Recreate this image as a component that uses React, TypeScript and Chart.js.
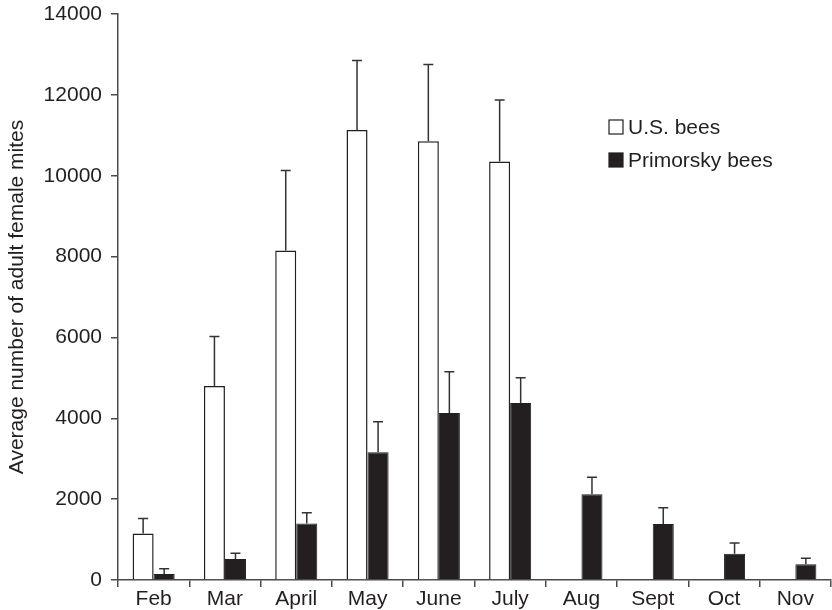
import React, { useEffect, useRef } from "react";
import { Chart, registerables } from "chart.js";

Chart.register(...registerables);

const categories = ["Feb", "Mar", "April", "May", "June", "July", "Aug", "Sept", "Oct", "Nov"];
const usBees = [1150, 4800, 8150, 11130, 10850, 10350, null, null, null, null];
const usErrTop = [1520, 6020, 10130, 12850, 12750, 11870, null, null, null, null];
const primorskyBees = [150, 520, 1400, 3160, 4130, 4380, 2120, 1385, 650, 390];
const primorskyErrTop = [280, 660, 1665, 3915, 5150, 5000, 2540, 1790, 915, 537];
const yTicks = [0, 2000, 4000, 6000, 8000, 10000, 12000, 14000];
const seriesNames = ["U.S. bees", "Primorsky bees"];

const FONT = "'Liberation Sans', Arial, Helvetica, sans-serif";
const TEXT = "#231f20";
const AXIS = "#4a4a4a";

const errorBarPlugin = {
  id: "errorBars",
  afterDatasetsDraw(chart: any) {
    const ctx = chart.ctx;
    const yScale = chart.scales.y;
    const errs = [usErrTop, primorskyErrTop];
    ctx.save();
    ctx.strokeStyle = "#333333";
    ctx.lineWidth = 1.5;
    chart.data.datasets.forEach((ds: any, i: number) => {
      const meta = chart.getDatasetMeta(i);
      meta.data.forEach((el: any, j: number) => {
        const v = ds.data[j];
        const e = errs[i][j];
        if (v == null || e == null) return;
        const x = el.x;
        const y0 = el.y;
        const y1 = yScale.getPixelForValue(e);
        ctx.beginPath();
        ctx.moveTo(x, y0);
        ctx.lineTo(x, y1);
        ctx.moveTo(x - 5, y1);
        ctx.lineTo(x + 5, y1);
        ctx.stroke();
      });
    });
    ctx.restore();
  },
};

const legendPlugin = {
  id: "insideLegend",
  afterDraw(chart: any) {
    const ctx = chart.ctx;
    const area = chart.chartArea;
    const bx = area.left + 491;
    const rows = [area.top + 113, area.top + 146];
    ctx.save();
    ctx.font = `21px ${FONT}`;
    ctx.textBaseline = "middle";
    ctx.textAlign = "left";
    rows.forEach((cy, i) => {
      const ds = chart.data.datasets[i];
      ctx.fillStyle = ds.backgroundColor;
      ctx.fillRect(bx, cy - 7, 14, 14);
      ctx.strokeStyle = "#231f20";
      ctx.lineWidth = 1.2;
      ctx.strokeRect(bx, cy - 7, 14, 14);
      ctx.fillStyle = TEXT;
      ctx.fillText(seriesNames[i], bx + 19, cy + 1);
    });
    ctx.restore();
  },
};

export default function App() {
  const ref = useRef<HTMLCanvasElement>(null);

  useEffect(() => {
    if (!ref.current) return;
    const chart = new Chart(ref.current, {
      type: "bar",
      data: {
        labels: categories,
        datasets: [
          {
            label: seriesNames[0],
            data: usBees,
            backgroundColor: "#ffffff",
            borderColor: "#231f20",
            borderWidth: 1.5,
          },
          {
            label: seriesNames[1],
            data: primorskyBees,
            backgroundColor: "#231f20",
            borderColor: "#231f20",
            borderWidth: 1,
          },
        ],
      },
      plugins: [errorBarPlugin, legendPlugin],
      options: {
        animation: false,
        responsive: true,
        maintainAspectRatio: false,
        layout: { padding: { left: 0, right: 1, top: 14, bottom: 0 } },
        datasets: {
          bar: { categoryPercentage: 0.59, barPercentage: 1 },
        },
        plugins: {
          legend: { display: false },
          tooltip: { enabled: false },
        },
        scales: {
          x: {
            afterFit: (s: any) => {
              s.height = 30;
              s.paddingLeft = 0;
              s.paddingRight = 0;
            },
            grid: {
              display: true,
              drawOnChartArea: false,
              drawTicks: true,
              tickLength: 7,
              color: AXIS,
              lineWidth: 1.5,
              offset: true,
            },
            border: { display: true, color: AXIS, width: 1.5 },
            ticks: {
              color: TEXT,
              font: { family: FONT, size: 21 },
              padding: 0,
              maxRotation: 0,
              autoSkip: false,
            },
          },
          y: {
            min: 0,
            max: 14000,
            afterFit: (s: any) => {
              s.width = 118;
              s.paddingTop = 0;
              s.paddingBottom = 0;
            },
            afterBuildTicks: (s: any) => {
              s.ticks = yTicks.map((v) => ({ value: v }));
            },
            grid: {
              display: true,
              drawOnChartArea: false,
              drawTicks: true,
              tickLength: 7,
              color: AXIS,
              lineWidth: 1.5,
            },
            border: { display: true, color: AXIS, width: 1.5 },
            ticks: {
              color: TEXT,
              font: { family: FONT, size: 21 },
              padding: 9,
              callback: (v: any) => String(v),
            },
            title: {
              display: true,
              text: "Average number of adult female mites",
              color: TEXT,
              font: { family: FONT, size: 21 },
              padding: { top: 5, bottom: 0 },
            },
          },
        },
      },
    });
    return () => chart.destroy();
  }, []);

  return (
    <div style={{ position: "absolute", left: 0, top: 0, width: 832, height: 610, background: "#fff" }}>
      <canvas ref={ref} />
    </div>
  );
}
